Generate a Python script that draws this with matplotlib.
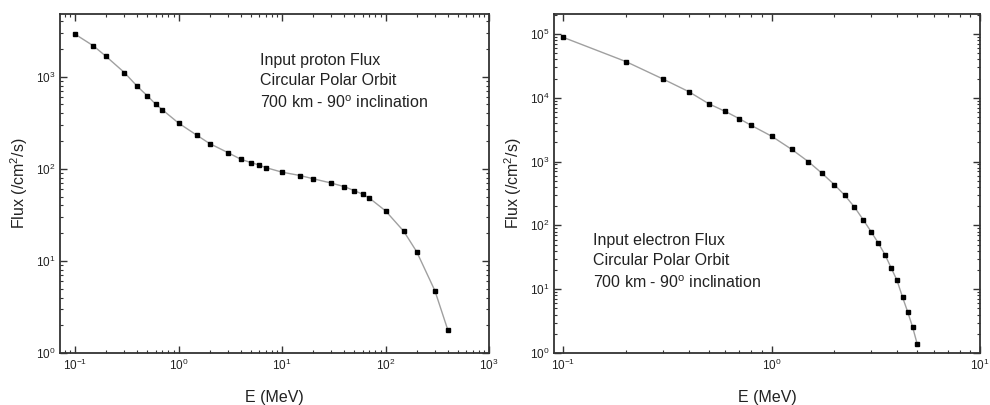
import numpy as np
import matplotlib
matplotlib.use("Agg")
import matplotlib.pyplot as plt
from matplotlib.ticker import LogLocator, NullFormatter, LogFormatterMathtext

plt.rcParams["font.family"] = ["Liberation Sans", "DejaVu Sans"]
plt.rcParams["mathtext.fontset"] = "custom"
plt.rcParams["mathtext.rm"] = "Liberation Sans"

# proton spectrum
proton_e = [0.1, 0.15, 0.2, 0.3, 0.4, 0.5, 0.6, 0.7, 1.0, 1.5, 2, 3, 4, 5, 6, 7,
            10, 15, 20, 30, 40, 50, 60, 70, 100, 150, 200, 300, 400]
proton_flux = [2900, 2170, 1660, 1110, 785, 620, 505, 437, 314, 232, 188, 150, 127,
               117, 110, 103, 92, 84.5, 78, 70, 64, 58, 53, 48, 35, 21, 12.6, 4.75, 1.78]

# electron spectrum
electron_e = [0.1, 0.2, 0.3, 0.4, 0.5, 0.6, 0.7, 0.8, 1.0, 1.25, 1.5, 1.75, 2.0, 2.25,
              2.5, 2.75, 3.0, 3.25, 3.5, 3.75, 4.0, 4.25, 4.5, 4.75, 5.0]
electron_flux = [88500, 36900, 19800, 12500, 8050, 6100, 4700, 3680, 2500, 1550, 1000,
                 650, 435, 294, 193, 123, 80, 53, 34.8, 21.5, 13.7, 7.5, 4.4, 2.55, 1.38]

proton_text = "Input proton Flux\nCircular Polar Orbit\n700 km - 90$^{\\mathregular{o}}$ inclination"
electron_text = "Input electron Flux\nCircular Polar Orbit\n700 km - 90$^{\\mathregular{o}}$ inclination"

fig = plt.figure(figsize=(9.9, 4.05), dpi=100)
ax1 = fig.add_axes([60 / 990, 1 - 353 / 405, 429 / 990, 339 / 405])
ax2 = fig.add_axes([554 / 990, 1 - 353 / 405, 426 / 990, 339 / 405])


def style_axis(ax):
    ax.set_xscale("log")
    ax.set_yscale("log")
    for side in ax.spines.values():
        side.set_linewidth(1.3)
        side.set_color("#333333")
    ax.tick_params(which="both", direction="in", top=True, right=True, colors="#333333",
                   labelcolor="#222222", labelsize=8.5)
    ax.tick_params(which="major", length=5, width=1.0)
    ax.tick_params(which="minor", length=2.5, width=0.8)
    ax.xaxis.set_major_locator(LogLocator(base=10, numticks=12))
    ax.xaxis.set_minor_locator(LogLocator(base=10, subs=np.arange(2, 10), numticks=12))
    ax.yaxis.set_major_locator(LogLocator(base=10, numticks=12))
    ax.yaxis.set_minor_locator(LogLocator(base=10, subs=np.arange(2, 10), numticks=12))
    ax.xaxis.set_minor_formatter(NullFormatter())
    ax.yaxis.set_minor_formatter(NullFormatter())
    ax.xaxis.set_major_formatter(LogFormatterMathtext())
    ax.yaxis.set_major_formatter(LogFormatterMathtext())
    ax.set_xlabel("E (MeV)", fontsize=11.5, color="#222222", labelpad=12)
    ax.set_ylabel("Flux (/cm$^{\\mathregular{2}}$/s)", fontsize=11.5, color="#222222", labelpad=4)


ax1.plot(proton_e, proton_flux, color="#a0a0a0", lw=1.0, marker="s", ms=2.2,
         mfc="black", mec="black")
style_axis(ax1)
ax1.set_xlim(0.0716, 1000)
ax1.set_ylim(1, 4800)
ax1.text(0.466, 0.885, proton_text, transform=ax1.transAxes, fontsize=11.5,
         color="#222222", va="top", linespacing=1.45)

ax2.plot(electron_e, electron_flux, color="#a0a0a0", lw=1.0, marker="s", ms=2.2,
         mfc="black", mec="black")
style_axis(ax2)
ax2.set_xlim(0.0905, 10)
ax2.set_ylim(1, 2.05e5)
ax2.text(0.092, 0.355, electron_text, transform=ax2.transAxes, fontsize=11.5,
         color="#222222", va="top", linespacing=1.45)

fig.savefig("out.png", dpi=100)
